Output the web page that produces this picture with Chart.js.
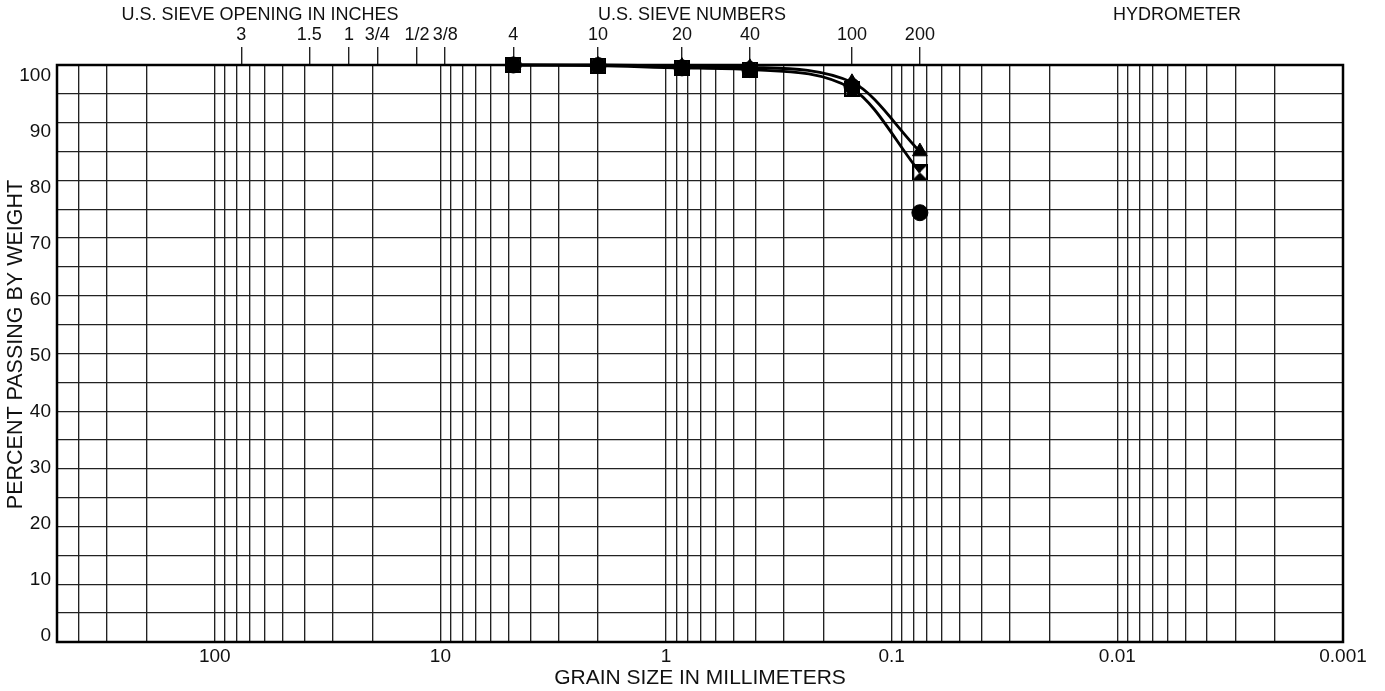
<!DOCTYPE html>
<html>
<head>
<meta charset="utf-8">
<title>Grain size distribution</title>
<script src="https://cdn.jsdelivr.net/npm/chart.js@4.4.1/dist/chart.umd.min.js"></script>
<style>
    html, body { margin: 0; padding: 0; background: #fff; }
    #wrap { width: 1385px; height: 691px; }
</style>
</head>
<body>
<div id="wrap"><canvas id="gradationChart" width="1385" height="691"></canvas></div>
<script>
// Sieve openings in mm (No. 4, 10, 20, 40, 100, 200)
const sieveSizes = [4.75, 2.0, 0.85, 0.425, 0.15, 0.075];
const sieveNumbers = ['4', '10', '20', '40', '100', '200'];

// Sieve openings in inches, converted to mm
const inchSizes = [76.2, 38.1, 25.4, 19.05, 12.7, 9.525];
const inchLabels = ['3', '1.5', '1', '3/4', '1/2', '3/8'];

// Percent passing for each sample
const passingSquare = [100, 99.9, 99.5, 99.2, 95.9, 81.4];
const passingTriangle = [100, 100, 99.8, 99.6, 97.0, 85.0];
const passingCircle = [100, 99.9, 99.5, 99.2, 96.3, 74.4];

// Axis labels
const xLabelValues = [100, 10, 1, 0.1, 0.01, 0.001];
const xLabelText = ['100', '10', '1', '0.1', '0.01', '0.001'];
const yLabelValues = [0, 10, 20, 30, 40, 50, 60, 70, 80, 90, 100];
const headerTitles = ['U.S. SIEVE OPENING IN INCHES', 'U.S. SIEVE NUMBERS', 'HYDROMETER'];

const FONT = '"Liberation Sans", Arial, sans-serif';
const INK = '#111';
const GRID = '#222';

// log grid: 1..9 x each decade, up to 500 mm
function logGridValues() {
    const vals = [];
    [0.001, 0.01, 0.1, 1, 10, 100].forEach(d => {
        for (let m = 1; m <= 9; m++) {
            const v = m * d;
            if (v <= 500.0001) vals.push(v);
        }
    });
    return vals;
}

function xLabelFor(v) {
    const i = xLabelValues.findIndex(lv => Math.abs(Math.log10(lv) - Math.log10(v)) < 1e-6);
    return i >= 0 ? xLabelText[i] : '';
}

// square marker with a filled hourglass, sides left see-through
function makeHourglassSquare(size) {
    const c = document.createElement('canvas');
    c.width = size;
    c.height = size;
    const g = c.getContext('2d');
    g.fillStyle = '#000';
    g.beginPath();
    g.moveTo(0, 0); g.lineTo(size, 0); g.lineTo(size / 2, size / 2); g.closePath();
    g.fill();
    g.beginPath();
    g.moveTo(0, size); g.lineTo(size, size); g.lineTo(size / 2, size / 2); g.closePath();
    g.fill();
    g.lineWidth = 2;
    g.strokeStyle = '#000';
    g.strokeRect(1, 1, size - 2, size - 2);
    return c;
}

const toPoints = (vals) => sieveSizes.map((s, i) => ({ x: s, y: vals[i] }));

const headerPlugin = {
    id: 'sieveHeaders',
    afterDraw(chart) {
        const ctx = chart.ctx;
        const xs = [260, 692, 1177];
        ctx.save();
        ctx.font = '18px ' + FONT;
        ctx.fillStyle = INK;
        ctx.textAlign = 'center';
        ctx.textBaseline = 'middle';
        headerTitles.forEach((t, i) => ctx.fillText(t, xs[i], 15));
        ctx.restore();
    }
};

const framePlugin = {
    id: 'plotFrame',
    beforeDatasetsDraw(chart) {
        const { left, top, right, bottom } = chart.chartArea;
        const ctx = chart.ctx;
        ctx.save();
        ctx.strokeStyle = '#000';
        ctx.lineWidth = 2.5;
        ctx.strokeRect(left, top, right - left, bottom - top);
        ctx.restore();
    }
};

const ctx = document.getElementById('gradationChart');

new Chart(ctx, {
    type: 'scatter',
    data: {
        datasets: [
            {
                label: 'Sample 1',
                data: toPoints(passingSquare),
                showLine: true,
                borderColor: '#000',
                borderWidth: 2.8,
                cubicInterpolationMode: 'monotone',
                pointStyle: makeHourglassSquare(16),
                clip: false
            },
            {
                label: 'Sample 2',
                data: toPoints(passingTriangle),
                showLine: true,
                borderColor: '#000',
                borderWidth: 2.8,
                cubicInterpolationMode: 'monotone',
                pointStyle: 'triangle',
                pointRadius: 8.5,
                pointBackgroundColor: '#000',
                pointBorderColor: '#000',
                pointBorderWidth: 1,
                clip: false
            },
            {
                label: 'Sample 3',
                data: toPoints(passingCircle),
                showLine: false,
                pointStyle: 'circle',
                pointRadius: 8,
                pointBackgroundColor: '#000',
                pointBorderColor: '#000',
                pointBorderWidth: 1,
                clip: false
            }
        ]
    },
    options: {
        responsive: false,
        animation: false,
        devicePixelRatio: 1,
        layout: { padding: { left: 0, right: 42, top: 0, bottom: 0 } },
        plugins: {
            legend: { display: false },
            tooltip: { enabled: false }
        },
        scales: {
            x: {
                type: 'logarithmic',
                position: 'bottom',
                min: 0.001,
                max: 500,
                reverse: true,
                afterBuildTicks: (scale) => {
                    scale.ticks = logGridValues().map(v => ({ value: v }));
                },
                afterFit: (scale) => { scale.height = 49; },
                ticks: {
                    autoSkip: false,
                    maxRotation: 0,
                    minRotation: 0,
                    padding: 3,
                    color: INK,
                    font: { family: FONT, size: 19 },
                    callback: (v) => xLabelFor(v)
                },
                grid: { color: GRID, lineWidth: 1.35, drawTicks: false },
                border: { display: false },
                title: {
                    display: true,
                    text: 'GRAIN SIZE IN MILLIMETERS',
                    color: INK,
                    font: { family: FONT, size: 21 },
                    padding: { top: 0, bottom: 0 }
                }
            },
            xTop: {
                type: 'logarithmic',
                position: 'top',
                min: 0.001,
                max: 500,
                reverse: true,
                afterBuildTicks: (scale) => {
                    scale.ticks = inchSizes.concat(sieveSizes).map(v => ({ value: v }));
                },
                afterFit: (scale) => { scale.height = 65; },
                ticks: {
                    autoSkip: false,
                    maxRotation: 0,
                    minRotation: 0,
                    padding: 1,
                    color: INK,
                    font: { family: FONT, size: 18 },
                    callback: (v, i) => inchLabels.concat(sieveNumbers)[i]
                },
                grid: { drawOnChartArea: false, drawTicks: true, tickLength: 18, color: GRID, lineWidth: 1.4 },
                border: { display: false }
            },
            y: {
                type: 'linear',
                position: 'left',
                min: 0,
                max: 100,
                afterFit: (scale) => { scale.width = 0; },
                ticks: { display: false, stepSize: 5 },
                grid: { color: GRID, lineWidth: 1.35, drawTicks: false },
                border: { display: false }
            },
            yLabels: {
                type: 'linear',
                position: 'left',
                min: -1.2,
                max: 101.84,
                afterBuildTicks: (scale) => {
                    scale.ticks = yLabelValues.map(v => ({ value: v }));
                },
                afterFit: (scale) => { scale.width = 57; },
                ticks: {
                    padding: 6,
                    color: INK,
                    font: { family: FONT, size: 19 },
                    callback: (v) => String(v)
                },
                grid: { display: false, drawTicks: false },
                border: { display: false },
                title: {
                    display: true,
                    text: '   PERCENT PASSING BY WEIGHT',
                    color: INK,
                    font: { family: FONT, size: 21.5 },
                    padding: { top: 3, bottom: 0 }
                }
            }
        }
    },
    plugins: [framePlugin, headerPlugin]
});
</script>
</body>
</html>
